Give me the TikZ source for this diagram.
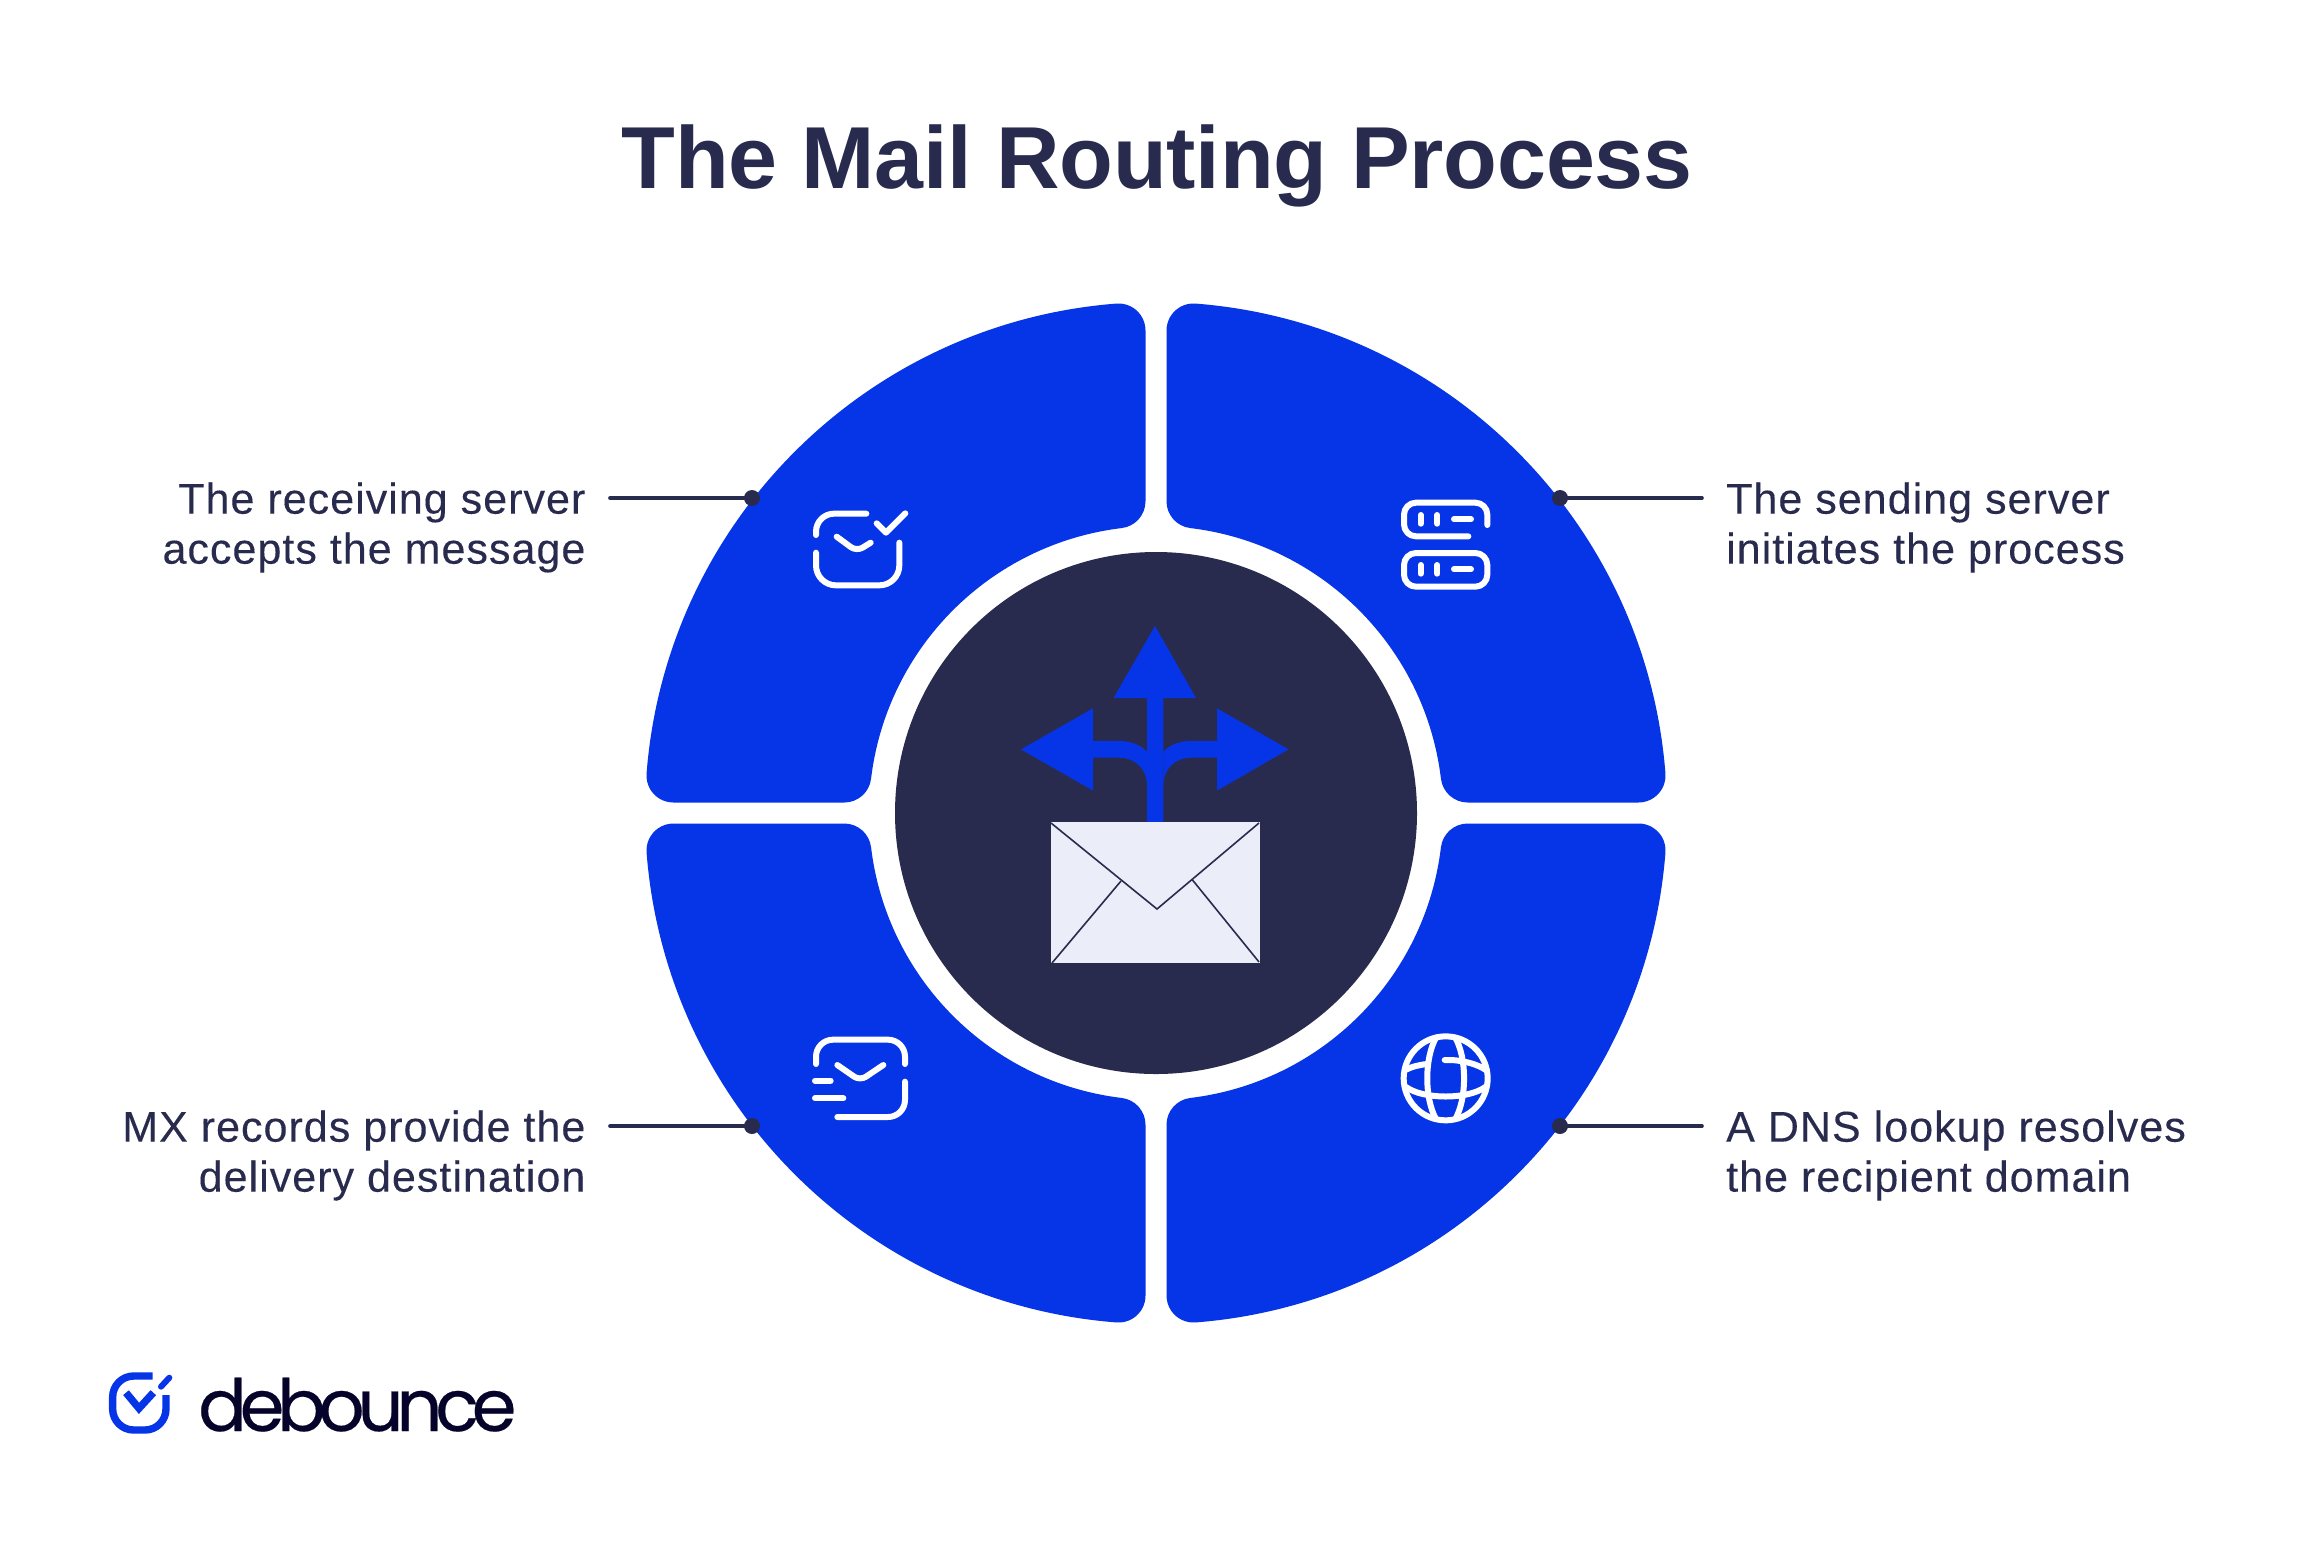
\documentclass[tikz,border=0pt]{standalone}
\usepackage{fontspec}
\setmainfont{Liberation Sans}[LetterSpace=2.4,FakeBold=0.18]
\newfontfamily\titlefont{Liberation Sans}[LetterSpace=-0.3]
\newfontfamily\logofont{Poppins}[LetterSpace=-10,FakeBold=0.3]
\usepackage{tikz}
\usetikzlibrary{positioning}

\definecolor{routeblue}{HTML}{0635E8}
\definecolor{navy}{HTML}{282B4E}
\definecolor{paper}{HTML}{EBEEF9}
\definecolor{logoink}{HTML}{06032A}

\tikzset{
  stepicon/.style={draw=white, line width=6pt, line cap=round, line join=round},
  leader/.style={draw=navy, line width=3.6pt, line cap=round},
  dotmark/.style={circle, fill=navy, minimum size=16pt, inner sep=0pt},
  steplabel/.style={text=navy, inner sep=0pt, font=\fontsize{43}{50}\selectfont},
  flapline/.style={draw=navy, line width=1.6pt},
}

\begin{document}
\begin{tikzpicture}[x=1pt,y=1pt]
\useasboundingbox (0,0) rectangle (2313,-1543);
\fill[white] (0,0) rectangle (2313,-1543);

\node (title) [text=navy, font=\titlefont\bfseries\fontsize{88}{100}\selectfont, inner sep=0pt, anchor=base] at (1157,-188) {The Mail Routing Process};

% four blue quarters
\foreach \quadrot in {0,90,180,270}{
  \begin{scope}[shift={(1156,-813)},rotate=\quadrot]
    \fill[routeblue] (10.5,311.75) -- (10.5,482.545)
      arc[start angle=180,end angle=85.556,radius=27pt]
      -- (85.556:511pt)
      arc[start angle=85.556,end angle=4.444,radius=511pt]
      -- (4.444:511pt)
      arc[start angle=4.444,end angle=-90,radius=27pt]
      -- (482.545,10.5) -- (311.75,10.5)
      arc[start angle=270,end angle=186.859,radius=27pt]
      -- (6.859:287pt)
      arc[start angle=6.859,end angle=83.141,radius=287pt]
      -- (83.141:287pt)
      arc[start angle=263.141,end angle=180,radius=27pt]
      -- cycle;
  \end{scope}
}

\node (hub) [circle, fill=navy, minimum size=522pt, inner sep=0pt] at (1156,-813) {};

% arrows out of the envelope
\fill[routeblue] (1155,-626) -- (1196,-698) -- (1163.4,-698) -- (1163.4,-823) -- (1147,-823) -- (1147,-698) -- (1113.5,-698) -- cycle;
\fill[routeblue] (1021,-749.4) -- (1093,-708.3) -- (1093,-741) -- (1119,-741)
  .. controls (1131,-741) and (1141,-745) .. (1147,-752) -- (1147,-785)
  .. controls (1147,-770) and (1136,-757.7) .. (1119,-757.7) -- (1093,-757.7) -- (1093,-790.6) -- cycle;
\fill[routeblue] (1288.5,-749.4) -- (1217,-708.3) -- (1217,-741) -- (1191,-741)
  .. controls (1179,-741) and (1169,-745) .. (1163.4,-752) -- (1163.4,-785)
  .. controls (1163.4,-770) and (1174,-757.7) .. (1191,-757.7) -- (1217,-757.7) -- (1217,-790.6) -- cycle;

% envelope
\fill[paper] (1051,-822) rectangle (1259.5,-963);
\draw[flapline] (1051,-823) -- (1157,-909) -- (1259,-823);
\draw[flapline] (1121,-881) -- (1052,-963);
\draw[flapline] (1192.5,-880) -- (1259,-962);

% leaders
\node (dotTL) [dotmark] at (752,-498) {};
\node (dotTR) [dotmark] at (1560,-498) {};
\node (dotBL) [dotmark] at (752,-1126) {};
\node (dotBR) [dotmark] at (1560,-1126) {};
\coordinate (startTL) at (610,-498);
\coordinate (startTR) at (1702,-498);
\coordinate (startBL) at (610,-1126);
\coordinate (startBR) at (1702,-1126);
\foreach \corner in {TL,TR,BL,BR}
  \draw[leader] (start\corner) -- (dot\corner.center);

\node (labelTL) [steplabel, align=right, anchor=east] at (585.6,-527.5) {The receiving server\\accepts the message};
\node (labelTR) [steplabel, align=left, anchor=west] at (1726,-527.5) {The sending server\\initiates the process};
\node (labelBL) [steplabel, align=right, anchor=east] at (585.6,-1155.5) {MX records provide the\\delivery destination};
\node (labelBR) [steplabel, align=left, anchor=west] at (1726,-1155.5) {A DNS lookup resolves\\the recipient domain};

% icon top left
\begin{scope}[shift={(780,-480)},scale=1/3]
  \draw[stepicon, rounded corners=18pt] (259,-101) -- (108,-101) -- (108,-165);
  \draw[stepicon, rounded corners=20pt] (108,-218) -- (108,-316) -- (358,-316) -- (358,-188);
  \draw[stepicon, rounded corners=7pt] (170,-170) -- (230,-214) -- (272,-188);
  \draw[stepicon] (290,-130) -- (318,-158) -- (376,-100);
\end{scope}

% icon top right
\begin{scope}[shift={(1380,-480)},scale=1/3]
  \draw[stepicon, rounded corners=12pt] (265,-169) -- (72,-169) -- (72,-68) -- (322,-68) -- (322,-135);
  \draw[stepicon, rounded corners=12pt] (72,-219) rectangle (322,-320);
  \foreach \rowy in {118,268}{
    \draw[stepicon] (122,-\rowy+13) -- (122,-\rowy-13);
    \draw[stepicon] (172,-\rowy+13) -- (172,-\rowy-13);
    \draw[stepicon] (222,-\rowy) -- (273,-\rowy);
  }
\end{scope}

% icon bottom left
\begin{scope}[shift={(780,-1015)},scale=1/3]
  \draw[stepicon, rounded corners=17pt] (108,-147) -- (108,-74) -- (375,-74) -- (375,-147);
  \draw[stepicon, rounded corners=7pt] (172,-150) -- (240,-197) -- (310,-150);
  \draw[stepicon, rounded corners=17pt] (375,-200) -- (375,-306) -- (172,-306);
  \draw[stepicon] (105,-197) -- (152,-197);
  \draw[stepicon] (105,-250) -- (190,-250);
\end{scope}

% icon bottom right
\begin{scope}[shift={(1380,-1015)},scale=1/3]
  \draw[stepicon] (197,-190) circle[radius=126];
  \draw[stepicon] (168,-68) .. controls (133,-130) and (133,-250) .. (168,-312);
  \draw[stepicon] (226,-68) .. controls (261,-130) and (261,-250) .. (226,-312);
  \draw[stepicon] (78,-164) .. controls (95,-155) and (120,-149) .. (142,-147);
  \draw[stepicon] (194,-135) -- (215,-135) .. controls (260,-138) and (295,-150) .. (316,-164);
  \draw[stepicon] (78,-216) .. controls (130,-254) and (264,-254) .. (316,-216);
\end{scope}

% logo
\begin{scope}[shift={(90,-1350)},scale=1/3]
  \draw[draw=routeblue, line width=7.4pt, rounded corners=21pt] (188,-78) -- (68,-78) -- (68,-240) -- (228,-240) -- (228,-135);
  \draw[draw=routeblue, line width=6pt, line cap=round] (213,-110) -- (238,-83);
  \draw[draw=routeblue, line width=7.4pt] (108,-128) -- (147,-175) -- (190,-128);
\end{scope}
\node (logotext) [text=logoink, inner sep=0pt, anchor=base west, font=\logofont\fontsize{72}{80}\selectfont] at (198,-1431) {debounce};
\end{tikzpicture}
\end{document}
